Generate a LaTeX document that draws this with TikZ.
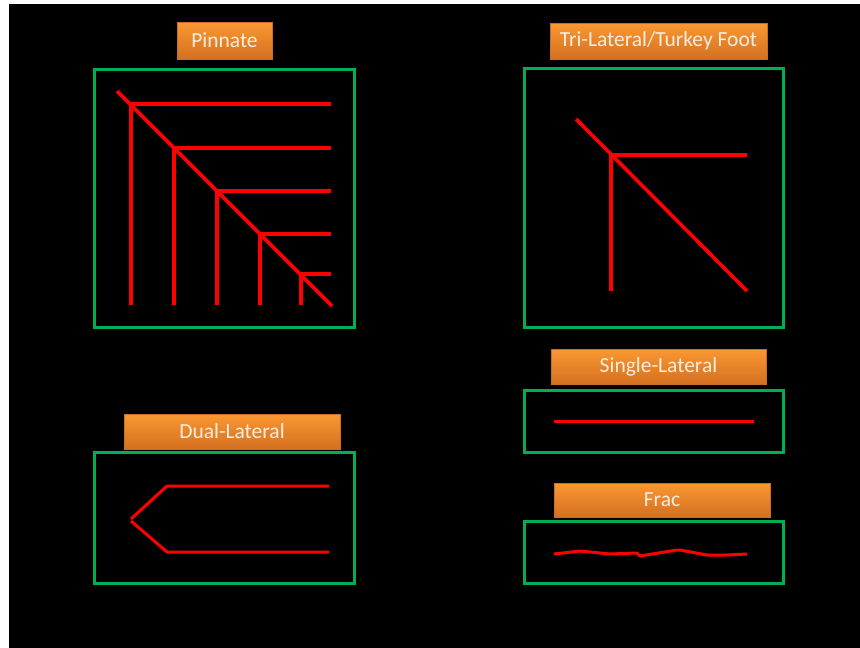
\documentclass[tikz,border=0pt]{standalone}
\usepackage{fontspec}
\setmainfont{Carlito}
\definecolor{bgblack}{RGB}{0,0,0}
\definecolor{gboxc}{RGB}{0,176,80}
\definecolor{redl}{RGB}{255,0,0}
\definecolor{orTop}{RGB}{250,152,50}
\definecolor{orBot}{RGB}{212,112,32}
\definecolor{orEdge}{RGB}{200,110,45}
\definecolor{lbltext}{RGB}{252,236,222}
\begin{document}
\begin{tikzpicture}[x=1pt,y=-1pt,
  lbl/.style={draw=orEdge, line width=0.8pt, top color=orTop, bottom color=orBot,
    text=lbltext, inner sep=0pt, font=\fontsize{21.5}{24}\selectfont},
  gbox/.style={draw=gboxc, line width=3pt, inner sep=0pt},
  rline/.style={draw=redl, line width=3.6pt, line cap=butt, line join=miter},
  rthin/.style={draw=redl, line width=3pt, line cap=butt, line join=round}]
\useasboundingbox (0,0) rectangle (860,648);
\fill[white] (0,0) rectangle (860,648);
\fill[bgblack] (9,4) rectangle (860,648);

% labels
\node[lbl, minimum width=95pt, minimum height=37pt] (lpin) at (224.5,40.5) {Pinnate};
\node[lbl, minimum width=217pt, minimum height=36pt] (ltri) at (658.5,41) {Tri-Lateral/Turkey Foot};
\node[lbl, minimum width=215pt, minimum height=35pt] (lsin) at (658.5,366.5) {Single-Lateral};
\node[lbl, minimum width=216pt, minimum height=35pt] (ldua) at (232,431.5) {Dual-Lateral};
\node[lbl, minimum width=216pt, minimum height=34pt] (lfra) at (662,500) {Frac};

% green boxes
\node[gbox, minimum width=260pt, minimum height=258pt] (bpin) at (224,198) {};
\node[gbox, minimum width=259pt, minimum height=259pt] (btri) at (653.5,197.5) {};
\node[gbox, minimum width=259pt, minimum height=62pt] (bsin) at (653.5,421) {};
\node[gbox, minimum width=260pt, minimum height=131pt] (bdua) at (224,517.5) {};
\node[gbox, minimum width=259pt, minimum height=62pt] (bfra) at (653.5,552) {};

% Pinnate
\draw[rline] (117,91) -- (332,306);
\foreach \x/\y in {131/104,174/148,217/191,260/234} {
  \draw[rline] (\x,\y) -- (331,\y);
  \draw[rline] (\x,\y) -- (\x,305);
}
\draw[rline] (301,274) -- (331,274);
\draw[rline] (301,274) -- (301,305);

% Tri-lateral
\draw[rline] (576,119) -- (747,291);
\draw[rline] (611,155) -- (747,155);
\draw[rline] (611,155) -- (611,291);

% Single-lateral
\draw[rthin] (554,421) -- (754,421);

% Dual-lateral
\draw[rthin] (131,519) -- (167,486) -- (329,486);
\draw[rthin] (131,521) -- (167,552) -- (329,552);

% Frac
\draw[rthin] (554,554) -- (580,551) -- (610,554) -- (637,553) -- (640,556) -- (677,550) -- (680,550) -- (707,555) -- (727,555) -- (747,554);
\end{tikzpicture}
\end{document}
